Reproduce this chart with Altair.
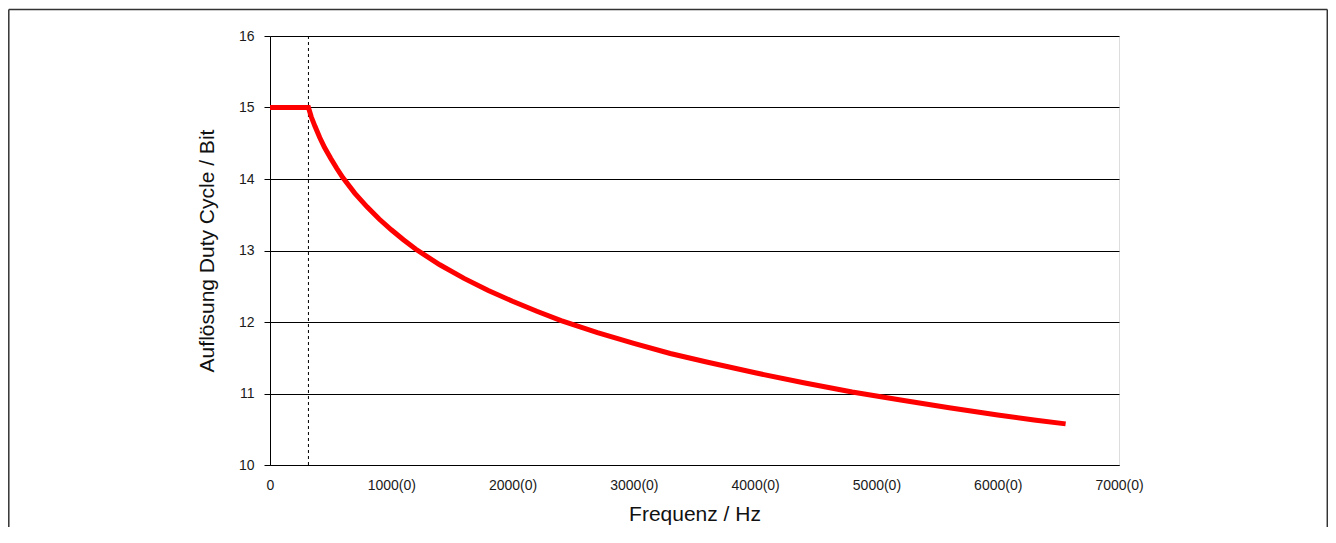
import altair as alt
import pandas as pd

# Frequency (Hz) and duty-cycle resolution (bit)
freq = [0, 317, 340, 370, 410, 450, 500, 550, 600, 700, 800, 900, 1000, 1100,
        1200, 1400, 1600, 1800, 2000, 2200, 2400, 2700, 3000, 3300, 3600, 4000,
        4400, 4800, 5200, 5600, 6000, 6300, 6560]
bits = [15.00, 15.00, 14.87, 14.74, 14.58, 14.44, 14.29, 14.15, 14.02, 13.80,
        13.61, 13.44, 13.29, 13.15, 13.02, 12.80, 12.61, 12.44, 12.29, 12.15,
        12.02, 11.85, 11.70, 11.56, 11.44, 11.29, 11.15, 11.02, 10.91, 10.80,
        10.70, 10.63, 10.575]
knee = [317]

x_ticks = [0, 1000, 2000, 3000, 4000, 5000, 6000, 7000]
x_tick_labels = ["0", "1000(0)", "2000(0)", "3000(0)", "4000(0)", "5000(0)",
                 "6000(0)", "7000(0)"]
y_ticks = [10, 11, 12, 13, 14, 15, 16]

W, H = 849, 429
FONT = "Liberation Sans"

df = pd.DataFrame({"f": freq, "b": bits})
knee_df = pd.DataFrame({"f": knee})
one = pd.DataFrame({"a": [0]})

label_array = "[" + ",".join("'%s'" % s for s in x_tick_labels) + "]"

x_scale = alt.Scale(domain=[0, 7000], nice=False, zero=False)
y_scale = alt.Scale(domain=[10, 16], nice=False, zero=False)

x_axis = alt.Axis(
    values=x_ticks,
    labelExpr=label_array + "[round(datum.value/1000)]",
    ticks=False,
    grid=False,
    domainColor="black",
    domainWidth=1,
    labelFont=FONT,
    labelFontSize=14,
    labelColor="#1a1a1a",
    labelPadding=13,
    labelFlush=False,
    title="Frequenz / Hz",
    titleFont=FONT,
    titleFontSize=21,
    titleFontWeight="normal",
    titleColor="#111",
    titleBaseline="alphabetic",
    titleY=55,
    titleX=W / 2,
    titleAlign="center",
)
y_axis = alt.Axis(
    values=y_ticks,
    ticks=True,
    tickSize=6,
    tickColor="black",
    tickWidth=1,
    grid=True,
    gridColor="black",
    gridWidth=1,
    gridOpacity=1,
    domainColor="black",
    domainWidth=1,
    labelFont=FONT,
    labelFontSize=14,
    labelColor="#1a1a1a",
    labelPadding=10,
    labelFlush=False,
    title="Auflösung Duty Cycle / Bit",
    titleFont=FONT,
    titleFontSize=21,
    titleFontWeight="normal",
    titleColor="#111",
    titleAngle=270,
    titleBaseline="alphabetic",
    titleX=-57,
    titleY=H / 2,
    titleAlign="center",
)

line = alt.Chart(df).mark_line(color="#ff0000", strokeWidth=5, strokeCap="butt",
                               strokeJoin="miter").encode(
    x=alt.X("f:Q", scale=x_scale, axis=x_axis),
    y=alt.Y("b:Q", scale=y_scale, axis=y_axis),
)

dash = alt.Chart(knee_df).mark_rule(color="black", strokeWidth=1,
                                    strokeDash=[3, 3]).encode(
    x=alt.X("f:Q", scale=x_scale),
    y=alt.value(0),
    y2=alt.value(H),
)

border_style = dict(color="#333", strokeWidth=1.5, clip=False)
b_left = alt.Chart(one).mark_rule(**border_style).encode(
    x=alt.value(-261.2), y=alt.value(-26.5), y2=alt.value(H + 70))
b_right = alt.Chart(one).mark_rule(**border_style).encode(
    x=alt.value(1057.3), y=alt.value(-26.5), y2=alt.value(H + 70))
b_top = alt.Chart(one).mark_rule(**border_style).encode(
    x=alt.value(-261.2), x2=alt.value(1057.3), y=alt.value(-26.5))

chart = alt.layer(dash, line, b_left, b_right, b_top).properties(
    width=W,
    height=H,
    autosize=alt.AutoSizeParams(type="none"),
    padding={"left": 262, "top": 28, "right": 209, "bottom": 62},
).configure_view(stroke=None).configure(background="white")

chart.save("out.html", embed_options={"renderer": "svg", "actions": False})
